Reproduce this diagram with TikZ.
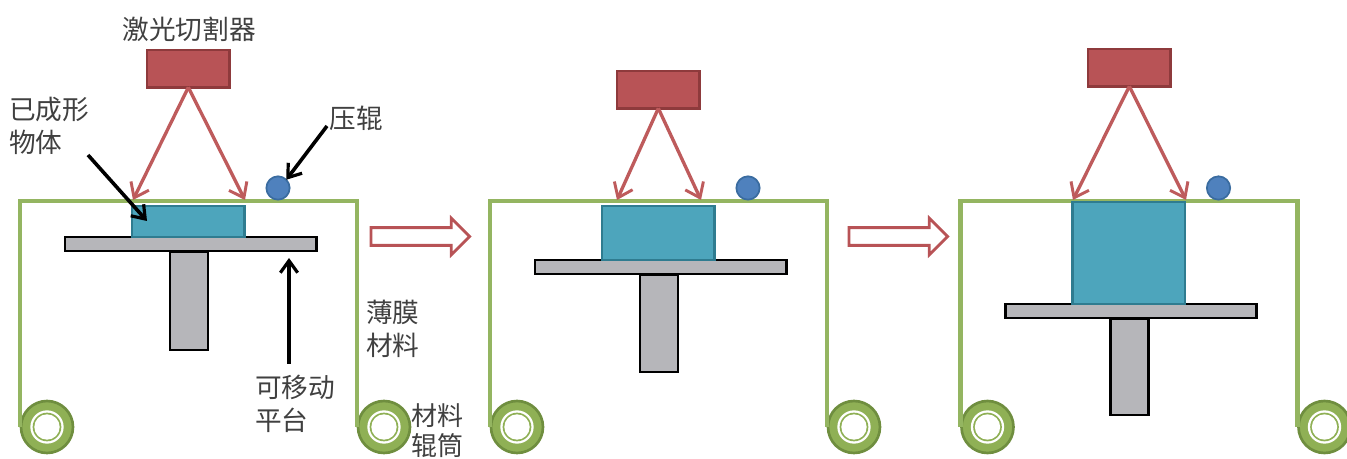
\documentclass[tikz,border=0pt]{standalone}
\usepackage{fontspec}
\usetikzlibrary{arrows.meta,shapes.arrows}
\setmainfont{Noto Sans CJK SC}
\definecolor{lred}{HTML}{B85356}
\definecolor{lredd}{HTML}{8E3A3C}
\definecolor{beam}{HTML}{BE5B5C}
\definecolor{film}{HTML}{94B561}
\definecolor{rollf}{HTML}{8FB055}
\definecolor{rolld}{HTML}{6F8E3F}
\definecolor{obj}{HTML}{4DA5BC}
\definecolor{objd}{HTML}{2F7C90}
\definecolor{pg}{HTML}{B6B6BA}
\definecolor{rollerf}{HTML}{4F81BD}
\definecolor{rollerd}{HTML}{3A6CA0}
\definecolor{txt}{HTML}{404040}
\tikzset{
  box/.style={draw,rectangle,inner sep=0pt,outer sep=0pt,anchor=north west},
  laserbox/.style={box,fill=lred,draw=lredd,line width=1.9pt},
  objbox/.style={box,fill=obj,draw=objd,line width=1.9pt},
  platebox/.style={box,fill=pg,draw=black,line width=2.1pt},
  beamline/.style={draw=beam,line width=2.5pt,-{Straight Barb[length=10pt,width=15pt,line width=2.2pt]}},
  filmline/.style={draw=film,line width=3.1pt,line join=miter},
  pressroll/.style={circle,inner sep=0pt,outer sep=0pt,fill=rollerf,draw=rollerd,line width=1.3pt},
  reel/.style={circle,inner sep=0pt,outer sep=0pt,minimum size=39pt,fill=rollf,draw=rolld,line width=2pt},
  reelring/.style={circle,inner sep=0pt,outer sep=0pt,minimum size=25pt,fill=white,draw=none},
  reelmid/.style={circle,inner sep=0pt,outer sep=0pt,minimum size=21.5pt,fill=rollf,draw=none},
  reelhole/.style={circle,inner sep=0pt,outer sep=0pt,minimum size=19pt,fill=white,draw=none},
  note/.style={draw=black,line width=2.7pt,-{Straight Barb[length=9pt,width=13pt,line width=2.4pt]}},
  lab/.style={text=txt,font=\fontsize{20pt}{25pt}\selectfont,align=left,inner sep=0pt},
  moveto/.style={draw=lred,fill=white,line width=2.1pt,single arrow,single arrow head extend=7.1pt,single arrow tip angle=90,minimum height=74pt,inner xsep=0pt,inner ysep=5.6pt,outer sep=0pt}
}
\newcommand{\stagedraw}[9]{%
  \def\sid{#1}\def\fx{#2}%
  \pgfmathsetmacro{\fxr}{#2+337}
  \coordinate (\sid fa) at (\fx,427);
  \coordinate (\sid fb) at (\fx,201);
  \coordinate (\sid fc) at (\fxr,201);
  \coordinate (\sid fd) at (\fxr,427);
  \node[reel] (\sid rl) at (\fx+27,427) {};
  \node[reelring] (\sid rla) at (\fx+27,427) {};
  \node[reelmid] (\sid rlb) at (\fx+27,427) {};
  \node[reelhole] (\sid rlc) at (\fx+27,427) {};
  \node[reel] (\sid rr) at (\fxr+27,427) {};
  \node[reelring] (\sid rra) at (\fxr+27,427) {};
  \node[reelmid] (\sid rrb) at (\fxr+27,427) {};
  \node[reelhole] (\sid rrc) at (\fxr+27,427) {};
  \draw[filmline] (\sid fa) -- (\sid fb) -- (\sid fc) -- (\sid fd);
  \node[pressroll,minimum size=17.5pt] (\sid press) at (\fx+258,188) {};
  \pgfmathsetmacro{\px}{#2+150}
  \node[platebox,minimum width=28.5pt,minimum height=#9*0.75pt] (\sid pillar) at (\px,#8+15) {};
  \pgfmathsetmacro{\qx}{#2+45}
  \node[platebox,minimum width=188.5pt,minimum height=10.5pt] (\sid plate) at (\qx,#8) {};
  \pgfmathsetmacro{\ox}{#2+112}
  \pgfmathsetmacro{\oh}{(#8-#7)*0.75}
  \node[objbox,minimum width=84.5pt,minimum height=\oh pt] (\sid obj) at (\ox,#7) {};
  \node[laserbox,minimum width=62pt,minimum height=28pt] (\sid laser) at (#3,#4) {};
  \coordinate (\sid bl) at (#5,200);
  \coordinate (\sid br) at (#6,200);
  \draw[beamline] (\sid laser.south) -- (\sid bl);
  \draw[beamline] (\sid laser.south) -- (\sid br);
}
\begin{document}
\begin{tikzpicture}[x=0.75pt,y=-0.75pt]
\useasboundingbox (0,0) rectangle (1347,459);
\stagedraw{a}{20}{147}{50}{133}{245}{206}{237}{98}
\stagedraw{b}{490}{617}{71}{617}{701}{206}{260}{97}
\stagedraw{c}{960.5}{1088}{49}{1073}{1186}{202}{304}{96}
\node[moveto,anchor=west] (m1) at (371,236.5) {};
\node[moveto,anchor=west] (m2) at (849,236.5) {};
\node[lab,anchor=center] (t1) at (189,29) {激光切割器};
\node[lab,anchor=north west] (t2) at (9,97) {已成形\\物体};
\node[lab,anchor=center] (t3) at (356,118) {压辊};
\node[lab,anchor=north west] (t4) at (366,300) {薄膜\\材料};
\node[lab,anchor=north west] (t5) at (255,374.5) {可移动\\平台};
\node[lab,anchor=north west,font=\fontsize{19.5pt}{23pt}\selectfont] (t6) at (411,403) {材料\\辊筒};
\coordinate (n1s) at (88,155);
\coordinate (n1e) at (147,221);
\coordinate (n2s) at (327,126);
\coordinate (n3s) at (289,364);
\coordinate (n3e) at (289,258);
\draw[note] (n1s) -- (n1e);
\draw[note] (n2s) -- (apress.north east);
\draw[note] (n3s) -- (n3e);
\end{tikzpicture}
\end{document}
